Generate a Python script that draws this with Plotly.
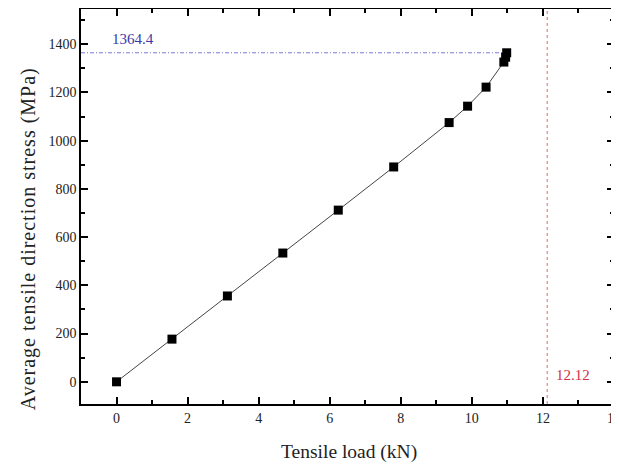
import plotly.graph_objects as go

# Data
load_kN = [0.0, 1.56, 3.12, 4.68, 6.24, 7.80, 9.36, 9.88, 10.40, 10.90, 10.95, 10.98]
stress_MPa = [0, 177, 356, 534, 712, 891, 1075, 1143, 1222, 1326, 1346, 1364.4]

max_stress = 1364.4
max_stress_label = "1364.4"
limit_load = 12.12
limit_load_label = "12.12"

x_range = [-1, 14]
y_range = [-92, 1546]

FONT = "Liberation Serif, Times New Roman, serif"

fig = go.Figure()

# horizontal reference line (max stress)
fig.add_trace(go.Scatter(
    x=[x_range[0], 11.1], y=[max_stress, max_stress],
    mode="lines", line=dict(color="#7b7bd6", width=1, dash="4px,2px,1px,2px"),
    hoverinfo="skip", showlegend=False))

# vertical reference line (limit load)
fig.add_trace(go.Scatter(
    x=[limit_load, limit_load], y=y_range,
    mode="lines", line=dict(color="#e06a6a", width=1, dash="3px,3px"),
    hoverinfo="skip", showlegend=False))

# main series
fig.add_trace(go.Scatter(
    x=load_kN, y=stress_MPa, mode="lines+markers",
    line=dict(color="#444444", width=1),
    marker=dict(symbol="square", size=9, color="black"),
    showlegend=False))

axis_common = dict(
    showline=True, linecolor="black", linewidth=1.5, mirror="ticks",
    ticks="inside", ticklen=7, tickwidth=1.5, tickcolor="black",
    showgrid=False, zeroline=False, automargin=False,
    tickfont=dict(family=FONT, size=14, color="#222222"),
)

fig.update_xaxes(
    range=x_range, dtick=2, tick0=0, ticklabeloverflow="allow",
    minor=dict(dtick=1, ticks="inside", ticklen=4, tickwidth=1.5, tickcolor="black"),
    **axis_common)
fig.update_yaxes(
    range=y_range, dtick=200, tick0=0,
    minor=dict(dtick=100, ticks="inside", ticklen=4, tickwidth=1.5, tickcolor="black"),
    **axis_common)

fig.add_annotation(
    x=-0.17, y=1422, xref="x", yref="y", text=max_stress_label,
    showarrow=False, xanchor="left", yanchor="middle",
    font=dict(family=FONT, size=15, color="#3a3aa8"))
fig.add_annotation(
    x=12.3, y=27, xref="x", yref="y", text=limit_load_label,
    showarrow=False, xanchor="left", yanchor="middle",
    font=dict(family=FONT, size=15, color="#d0304a"))

# axis titles placed like in the reference
fig.add_annotation(
    x=0.502, y=-0.121, xref="paper", yref="paper",
    text="Tensile load (kN)",
    showarrow=False, xanchor="center", yanchor="middle",
    font=dict(family=FONT, size=19.5, color="#222222"))
fig.add_annotation(
    x=-0.0994, y=0.417, xref="paper", yref="paper",
    text='<span style="letter-spacing:1px">Average tensile direction stress (MPa)</span>',
    textangle=-90,
    showarrow=False, xanchor="center", yanchor="middle",
    font=dict(family=FONT, size=20, color="#222222"))

# the page body adds an 8px offset, so the figure is 8px smaller
fig.update_layout(
    width=611, height=456,
    margin=dict(l=73, r=5, t=1, b=60, autoexpand=False),
    paper_bgcolor="white", plot_bgcolor="white",
)

fig.write_html("out.html")
